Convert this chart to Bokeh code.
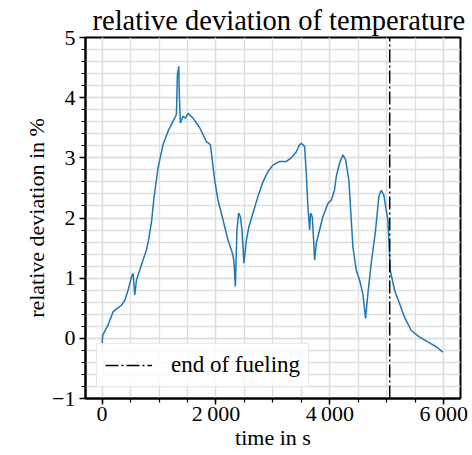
from bokeh.plotting import figure
from bokeh.models import Range1d, FixedTicker, Legend, LegendItem
from bokeh.embed import file_html
from bokeh.resources import INLINE

# ---- data ----
time_s = [0, 10, 105, 193, 253, 340, 398, 456, 516, 544, 574, 604, 661, 719, 779,
          819, 870, 907, 982, 1070, 1158, 1246, 1305, 1323, 1346, 1358, 1375, 1421,
          1463, 1509, 1596, 1714, 1832, 1902, 1977, 2035, 2123, 2211, 2270, 2298,
          2316, 2340, 2368, 2398, 2428, 2456, 2491, 2533, 2579, 2649, 2737, 2825,
          2912, 3000, 3118, 3235, 3323, 3411, 3468, 3498, 3556, 3586, 3614, 3644,
          3661, 3691, 3714, 3732, 3761, 3819, 3877, 3965, 4025, 4082, 4112, 4170,
          4228, 4275, 4333, 4375, 4404, 4463, 4521, 4579, 4626, 4667, 4726, 4802,
          4860, 4902, 4947, 4989, 5018, 5047, 5060, 5135, 5223, 5305, 5428, 5574,
          5719, 5867, 5982]
deviation_pct = [-0.13, 0.05, 0.22, 0.44, 0.49, 0.55, 0.63, 0.80, 1.02, 1.08, 0.72, 0.97,
                 1.13, 1.30, 1.47, 1.65, 1.95, 2.30, 2.83, 3.22, 3.44, 3.61, 3.72, 4.38,
                 4.52, 4.00, 3.58, 3.69, 3.66, 3.74, 3.66, 3.50, 3.27, 3.22, 2.63, 2.30,
                 1.97, 1.63, 1.47, 1.38, 1.27, 0.86, 1.80, 2.08, 2.02, 1.80, 1.25, 1.63,
                 1.86, 2.08, 2.36, 2.60, 2.77, 2.88, 2.94, 2.94, 3.00, 3.10, 3.22, 3.24,
                 3.19, 2.74, 2.19, 1.80, 2.08, 2.02, 1.63, 1.30, 1.58, 1.80, 2.02, 2.24,
                 2.30, 2.47, 2.69, 2.91, 3.05, 2.97, 2.63, 1.97, 1.52, 1.13, 0.97, 0.74,
                 0.33, 0.74, 1.25, 1.80, 2.36, 2.46, 2.38, 2.13, 1.97, 1.41, 1.13, 0.80,
                 0.58, 0.36, 0.13, 0.02, -0.06, -0.14, -0.23]
end_of_fueling_s = 5050

x_ticks = [0, 2000, 4000, 6000]
x_tick_labels = ["0", "2\u2009000", "4\u2009000", "6\u2009000"]
y_ticks = [-1, 0, 1, 2, 3, 4, 5]
y_tick_labels = ["\u22121", "0", "1", "2", "3", "4", "5"]
x_min, x_max = -291, 6293
y_min, y_max = -1, 5

title_text = "relative deviation of temperature"
x_label = "time in s"
y_label = "relative deviation in %"
legend_label = "end of fueling"

FONT = "Liberation Serif"
BLUE = "#1f77b4"
GRID = "#dedede"

p = figure(width=469, height=453, output_backend="svg", toolbar_location=None,
           x_range=Range1d(x_min, x_max), y_range=Range1d(y_min, y_max),
           min_border_left=85, min_border_right=9, min_border_top=37,
           min_border_bottom=55)

p.title.text = title_text
p.title.align = "left"
p.title.offset = 7
p.title.text_font = FONT
p.title.text_font_size = "28.5px"
p.title.text_font_style = "normal"
p.title.text_color = "black"
p.title.standoff = 3

p.outline_line_color = "black"
p.outline_line_width = 2
p.outline_line_alpha = 1
p.background_fill_color = "white"
p.border_fill_color = "white"

x_minor = [m * 500 for m in range(0, 13)]
y_minor = [round(-1 + 0.2 * k, 1) for k in range(0, 31)]

p.xaxis.ticker = FixedTicker(ticks=x_ticks, minor_ticks=x_minor)
p.yaxis.ticker = FixedTicker(ticks=y_ticks, minor_ticks=y_minor)
p.xaxis.major_label_overrides = dict(zip(x_ticks, x_tick_labels))
p.yaxis.major_label_overrides = dict(zip(y_ticks, y_tick_labels))

for ax in (p.xaxis[0], p.yaxis[0]):
    ax.axis_line_width = 2
    ax.axis_line_color = "black"
    ax.major_tick_in = 0
    ax.major_tick_out = 6
    ax.minor_tick_in = 0
    ax.minor_tick_out = 4
    ax.major_tick_line_width = 1.5
    ax.minor_tick_line_width = 1.2
    ax.major_label_text_font = FONT
    ax.major_label_text_font_size = "22px"
    ax.major_label_text_color = "black"
    ax.axis_label_text_font = FONT
    ax.axis_label_text_font_size = "22px"
    ax.axis_label_text_font_style = "normal"
    ax.axis_label_text_color = "black"

p.xaxis.axis_label = x_label
p.yaxis.axis_label = y_label
p.xaxis.major_label_standoff = -4
p.yaxis.major_label_standoff = 4
p.xaxis.axis_label_standoff = -4
p.yaxis.axis_label_standoff = 0

for g in (p.xgrid[0], p.ygrid[0]):
    g.grid_line_color = GRID
    g.grid_line_width = 1.3
    g.minor_grid_line_color = GRID
    g.minor_grid_line_width = 1.3

p.line(time_s, deviation_pct, line_color=BLUE, line_width=1.5)

vline = p.line([end_of_fueling_s, end_of_fueling_s], [y_min, y_max],
               line_color="black", line_width=1.5, line_dash="13 3 2 3")

legend = Legend(items=[LegendItem(label=legend_label, renderers=[vline])],
                location=(11, 11))
legend.label_text_font = FONT
legend.label_text_font_size = "23px"
legend.label_text_color = "black"
legend.glyph_width = 47
legend.glyph_height = 24
legend.label_height = 24
legend.label_standoff = 19
legend.padding = 8
legend.margin = 0
legend.border_line_color = "#d5d5d5"
legend.border_line_width = 1
legend.background_fill_alpha = 0.85
p.add_layout(legend)

open("out.html", "w").write(file_html(p, INLINE))
